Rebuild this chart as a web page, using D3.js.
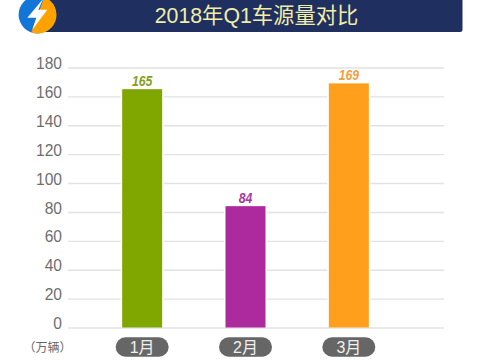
<!DOCTYPE html>
<html><head><meta charset="utf-8">
<script src="https://cdn.jsdelivr.net/npm/d3@7"></script>
<style>html,body{margin:0;padding:0;background:#fff}svg{display:block}</style>
</head><body><div id="chart"></div>
<script>
const categories = ["1月","2月","3月"];
const values = [165,84,169];
const barColors = ["#80a600","#ac2a9e","#ff9f1c"];
const labelColors = ["#86a020","#a8389c","#f0a040"];
const yTicks = [0,20,40,60,80,100,120,140,160,180];
const titleText = "2018年Q1车源量对比";
const unitText = "（万辆）";
const sans = "'Liberation Sans','Noto Sans CJK SC',sans-serif";

const svg = d3.select("#chart").append("svg").attr("width",480).attr("height",360);
const y = d3.scaleLinear().domain([0,180]).range([327.5,67.5]);
const xc = d3.scaleBand().domain(categories).range([90.5,400.5]);
const cx = d => xc(d)+xc.bandwidth()/2;

// banner
svg.append("path").attr("d","M40,0H462.5V29.5a2.5,2.5 0 0 1 -2.5,2.5H40Z").attr("fill","#1f3060");
svg.append("text").text(titleText).attr("x",256.5).attr("y",23).attr("text-anchor","middle")
  .attr("font-family",sans).attr("font-size",21.3).attr("fill","#f2eea6");

// icon
const ic = svg.append("g").attr("transform","translate(37.3,14.7)");
ic.append("circle").attr("r",18.7).attr("fill","#1276d8");
ic.append("path").attr("d","M7,-17.4A18.7,18.7 0 0 1 -6,17.7Z").attr("fill","#ffa200");
ic.append("path").attr("d","M6,-16L-10,3L-1,3L-5,15L10,-5L1,-5Z").attr("fill","#fff");

// axis + grid
const axis = d3.axisLeft(y).tickValues(yTicks).tickSize(-376).tickPadding(6);
const ga = svg.append("g").attr("transform","translate(68,0)").call(axis);
ga.select(".domain").remove();
ga.selectAll("line").attr("stroke","#e2e2e2").attr("stroke-width",1.4);
ga.selectAll("text").attr("font-family",sans).attr("font-size",15.6).attr("fill","#6e6e6e")
  .attr("dy","0.36em").attr("y",-4.5);

// bars
const bw = 40;
svg.selectAll("rect.halo").data(values).join("rect").attr("class","halo")
  .attr("x",(d,i)=>cx(categories[i])-bw/2-1.5).attr("width",bw+3)
  .attr("y",d=>y(d)).attr("height",d=>y(0)-y(d)-1).attr("fill","#fff");
svg.selectAll("rect.bar").data(values).join("rect").attr("class","bar")
  .attr("x",(d,i)=>cx(categories[i])-bw/2)
  .attr("width",bw).attr("y",d=>y(d)).attr("height",d=>y(0)-y(d))
  .attr("fill",(d,i)=>barColors[i]);
svg.selectAll("text.val").data(values).join("text").attr("class","val")
  .attr("x",(d,i)=>cx(categories[i])).attr("y",d=>y(d)-3.5)
  .attr("text-anchor","middle").attr("font-family",sans).attr("font-size",15)
  .attr("font-style","italic").attr("font-weight","bold")
  .attr("textLength",d=>String(d).length*6.8).attr("lengthAdjust","spacingAndGlyphs")
  .attr("fill",(d,i)=>labelColors[i]).text(d=>d);

// pills
const pills = svg.selectAll("g.pill").data(categories).join("g").attr("class","pill")
  .attr("transform",d=>`translate(${cx(d)},347)`);
pills.append("rect").attr("x",-26.5).attr("y",-9.7).attr("width",53).attr("height",19.4).attr("rx",9.7).attr("fill","#666");
pills.append("text").text(d=>d).attr("text-anchor","middle").attr("y",5.7)
  .attr("font-family",sans).attr("font-size",16).attr("fill","#f0f0f0");

svg.append("text").text(unitText).attr("x",47.5).attr("y",351.5).attr("text-anchor","middle")
  .attr("font-family",sans).attr("font-size",12).attr("fill","#666");
</script></body></html>
